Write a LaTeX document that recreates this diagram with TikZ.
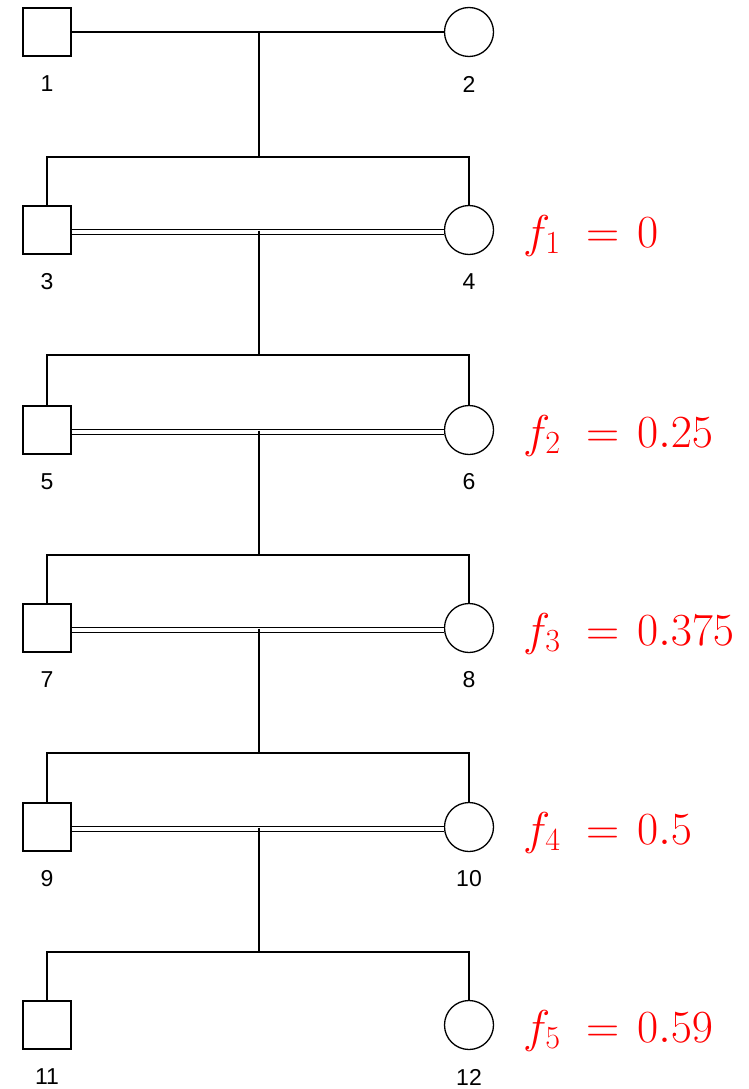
\RequirePackage{fix-cm}
\documentclass[tikz,border=0pt]{standalone}
\usepackage{fontspec}
\newfontfamily\arialfont{Liberation Sans}
\usetikzlibrary{calc}
\tikzset{
  male/.style={draw, rectangle, minimum size=48pt, inner sep=0pt, line width=1.3pt},
  female/.style={draw, circle, minimum size=49pt, inner sep=0pt, line width=1.3pt},
  idlabel/.style={font=\arialfont\fontsize{23}{23}\selectfont, inner sep=0pt},
  flabel/.style={text=red, font=\fontsize{46}{46}\selectfont, anchor=base west, inner sep=0pt},
  rel/.style={line width=1.3pt},
  consang/.style={double, double distance=3.4pt, line width=1.4pt}
}
\newcommand{\fco}[2]{$f_{#1}\mkern5mu = \mkern2mu #2$}
\begin{document}
\begin{tikzpicture}[x=1pt,y=-1pt]
\useasboundingbox (0,0) rectangle (749,1089);
% individuals
\foreach \k/\y/\a/\b in {1/32/1/2, 2/230/3/4, 3/430/5/6, 4/628/7/8, 5/827/9/10, 6/1025/11/12}{
  \node[male]   (m\k) at (47,\y) {};
  \node[female] (f\k) at (469,\y) {};
  \node[idlabel] (lm\k) at (47,\y+52) {\a};
  \node[idlabel] (lf\k) at (469,\y+52) {\b};
}
% marriages
\draw[rel] (m1.east) -- (f1.west);
\coordinate (mid1) at (259,32);
\foreach \k/\y in {2/230, 3/430, 4/628, 5/827}{
  \draw[consang] ([yshift=-2pt]m\k.east) -- ([yshift=-2pt]f\k.west);
  \coordinate (mid\k) at (259,\y+0.5);
}
% descent lines
\foreach \k/\y [count=\n from 2] in {1/32, 2/230, 3/430, 4/628, 5/827}{
  \coordinate (sib\k) at (259,\y+125);
  \draw[rel] (mid\k) -- (sib\k);
  \draw[rel] (m\n.north) |- (sib\k) -| (f\n.north);
}
% inbreeding coefficients
\node[flabel] (c1) at (523,247) {\fco{1}{0}};
\node[flabel] (c2) at (523,447) {\fco{2}{0.25}};
\node[flabel] (c3) at (523,645) {\fco{3}{0.375}};
\node[flabel] (c4) at (523,844) {\fco{4}{0.5}};
\node[flabel] (c5) at (523,1042) {\fco{5}{0.59}};
\end{tikzpicture}
\end{document}
